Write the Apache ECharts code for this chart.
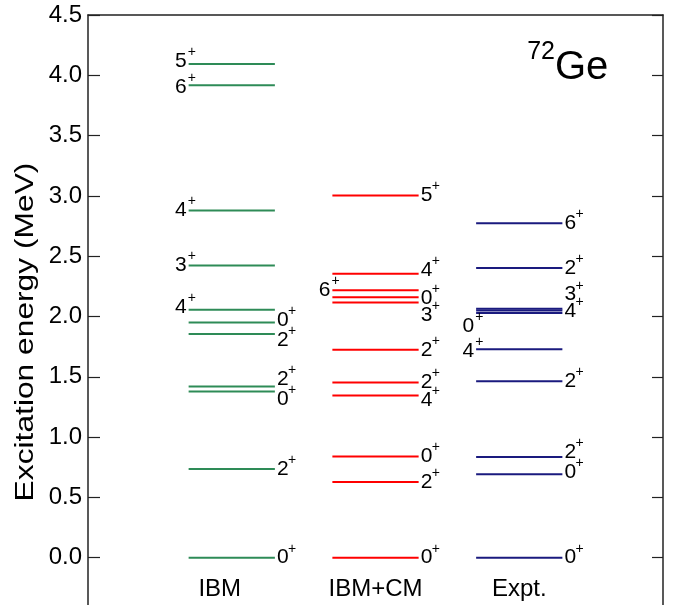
<!DOCTYPE html>
<html>
<head>
<meta charset="utf-8">
<script src="https://cdn.jsdelivr.net/npm/echarts@6/dist/echarts.min.js"></script>
<style>
html,body{margin:0;padding:0;background:#fff;}
#chart{width:679px;height:605px;}
</style>
</head>
<body>
<div id="chart"></div>
<script>
// ---- data ----
const models = ['IBM', 'IBM+CM', 'Expt.'];
const yTicks = [0.0, 0.5, 1.0, 1.5, 2.0, 2.5, 3.0, 3.5, 4.0, 4.5];

const ibmEnergies = [0, 0.735, 1.378, 1.420, 1.854, 1.950, 2.055, 2.422, 2.878, 3.917, 4.094];
const ibmSpins    = ['0', '2', '0', '2', '2', '0', '4', '3', '4', '6', '5'];

const cmEnergies  = [0, 0.627, 0.840, 1.345, 1.453, 1.724, 2.116, 2.160, 2.218, 2.354, 3.003];
const cmSpins     = ['0', '2', '0', '4', '2', '2', '3', '0', '6', '4', '5'];

const exptEnergies = [0, 0.691, 0.834, 1.464, 1.728, 2.028, 2.049, 2.065, 2.402, 2.773];
const exptSpins    = ['0', '0', '2', '2', '4', '0', '4', '3', '2', '6'];

// ---- label layout (style only) ----
const ibmSide  = ['r','r','r','r','r','r','l','l','l','l','l'];
const ibmDy    = [0, 0, 8, -7, 6, -2, -3, 0, 0, 2, -3];
const cmSide   = ['r','r','r','r','r','r','r','r','l','r','r'];
const cmDy     = [0, 0, 0, 5, 0, 0, 13, 1, 0, -4, 0];
const exptSide = ['r','r','r','r','l','l','r','r','r','r'];
const exptDy   = [0, -2, -5, 0, 2, 13, 1, -14, 0, 0];

const HALF = 0.3;
const FONT = '"Liberation Sans", Arial, Helvetica, sans-serif';

function makeSeries(idx, energies, spins, side, dy, color) {
  return {
    type: 'custom',
    coordinateSystem: 'cartesian2d',
    xAxisIndex: 0, yAxisIndex: 0,
    silent: true,
    clip: false,
    data: energies.map(e => [idx + 1, e]),
    renderItem: function (params, api) {
      const i = params.dataIndex;
      const x = api.value(0), e = api.value(1);
      const p1 = api.coord([x - HALF, e]);
      const p2 = api.coord([x + HALF, e]);
      const ty = p1[1] + dy[i];
      let dx, px, al;
      if (side[i] === 'r') { dx = p2[0] + 2; al = 'left'; px = p2[0] + 13; }
      else { dx = p1[0] - 2; al = 'right'; px = p1[0] - 1; }
      return {
        type: 'group',
        children: [
          { type: 'line', shape: { x1: p1[0], y1: p1[1], x2: p2[0], y2: p2[1] },
            style: { stroke: color, lineWidth: 2 } },
          { type: 'text', style: { text: spins[i], x: dx, y: ty, fill: '#000',
              font: '21px ' + FONT, align: al, textAlign: al,
              verticalAlign: 'middle', textVerticalAlign: 'middle' } },
          { type: 'text', style: { text: '+', x: px, y: ty - 9, fill: '#000',
              font: '14px ' + FONT, align: 'left', textAlign: 'left',
              verticalAlign: 'middle', textVerticalAlign: 'middle' } }
        ]
      };
    }
  };
}

const chart = echarts.init(document.getElementById('chart'), null, { renderer: 'canvas' });
const axisLineStyle = { color: '#222', width: 1.5 };

chart.setOption({
  animation: false,
  backgroundColor: '#fff',
  grid: { left: 88, right: 16, top: 15, height: 603, containLabel: false, outerBoundsMode: 'none' },
  xAxis: [
    { type: 'value', min: 0, max: 4, interval: 1, position: 'bottom',
      axisLine: { show: false, onZero: false }, axisTick: { show: false }, splitLine: { show: false },
      axisLabel: {
        margin: -41, fontSize: 24, fontFamily: FONT, color: '#000',
        formatter: v => {
          const n = models[v - 1];
          if (!n) return '';
          return v === 1 ? '{a|' + n + '}' : n;
        },
        rich: { a: { fontSize: 24, fontFamily: FONT, color: '#000', padding: [0, 24, 0, 0] } }
      } },
    { type: 'value', min: 0, max: 4, position: 'top',
      axisLine: { show: true, onZero: false, lineStyle: axisLineStyle }, axisTick: { show: false },
      axisLabel: { show: false }, splitLine: { show: false } }
  ],
  yAxis: [
    { type: 'value', min: -0.5, max: 4.5, interval: 0.5, position: 'left',
      axisLine: { show: true, onZero: false, lineStyle: axisLineStyle },
      axisTick: { show: true, inside: true, length: 12, lineStyle: { color: '#222', width: 1.2 } },
      splitLine: { show: false },
      axisLabel: { margin: 6, fontSize: 24, fontFamily: FONT, color: '#000',
        formatter: v => (yTicks.some(t => Math.abs(t - v) < 1e-9) ? v.toFixed(1) : '') } },
    { type: 'value', min: -0.5, max: 4.5, interval: 0.5, position: 'right',
      axisLine: { show: true, onZero: false, lineStyle: axisLineStyle },
      axisTick: { show: true, inside: true, length: 11, lineStyle: { color: '#222', width: 1.2 } },
      splitLine: { show: false }, axisLabel: { show: false } }
  ],
  graphic: [
    { type: 'text', x: 26, y: 332, rotation: Math.PI / 2, scaleX: 1.27,
      style: { text: 'Excitation energy (MeV)', font: '25px ' + FONT, fill: '#000',
        align: 'center', textAlign: 'center', verticalAlign: 'middle', textVerticalAlign: 'middle' } },
    { type: 'text', x: 555, y: 65,
      style: { text: '72', font: '25px ' + FONT, fill: '#000', align: 'right', textAlign: 'right',
        verticalAlign: 'alphabetic', textVerticalAlign: 'bottom' } },
    { type: 'text', x: 555, y: 88,
      style: { text: 'Ge', font: '40px ' + FONT, fill: '#000', align: 'left', textAlign: 'left',
        verticalAlign: 'bottom', textVerticalAlign: 'bottom' } }
  ],
  series: [
    makeSeries(0, ibmEnergies, ibmSpins, ibmSide, ibmDy, '#2e8b57'),
    makeSeries(1, cmEnergies, cmSpins, cmSide, cmDy, '#ff0000'),
    makeSeries(2, exptEnergies, exptSpins, exptSide, exptDy, '#1a1a7e')
  ]
});
</script>
</body>
</html>
